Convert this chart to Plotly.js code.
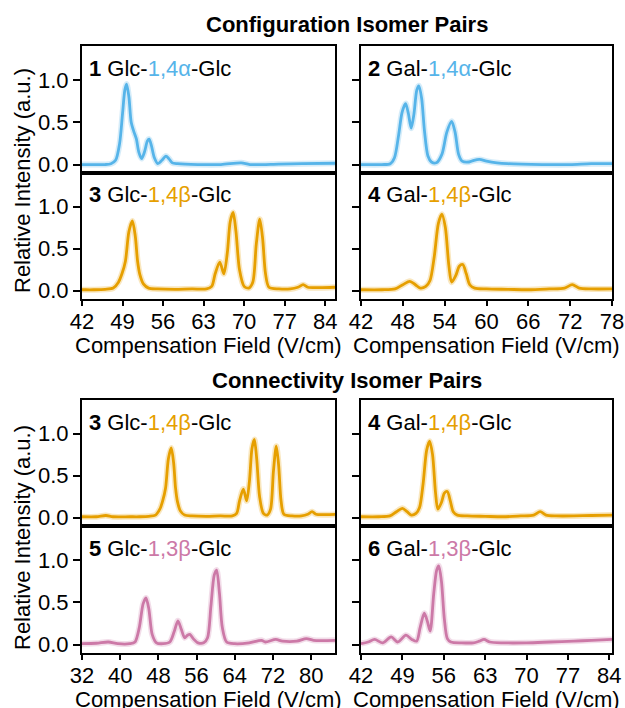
<!DOCTYPE html>
<html><head><meta charset="utf-8">
<script src="https://cdn.plot.ly/plotly-3.0.1.min.js"></script>
<style>html,body{margin:0;padding:0;background:#fff}#chart{width:625px;height:708px}</style>
</head><body><div id="chart"></div>
<script>
// ---------- data ----------
const glc14a_x = [42,44,46,47,47.8,48.5,49.0,49.4,49.7,50.1,50.5,51.0,51.4,51.8,52.3,52.8,53.3,53.6,54.0,54.5,55.1,55.8,56.5,57.0,57.6,58.5,62,66,69.5,71,76,80,85.7];
const glc14a_y = [0.0,0.0,0.0,0.01,0.05,0.25,0.6,0.88,0.95,0.8,0.5,0.38,0.3,0.15,0.07,0.15,0.28,0.30,0.22,0.08,0.01,0.05,0.10,0.07,0.02,0.01,0.0,0.0,0.02,0.0,0.005,0.01,0.015];

const gal14a_x = [42,45,46.2,46.8,47.4,47.9,48.4,48.8,49.2,49.6,50.0,50.3,50.7,51.1,51.6,52.1,52.8,53.6,54.3,55.0,55.5,56.0,56.5,57.5,58.2,59.0,60.0,61.5,63,68,72,75,78];
const gal14a_y = [0.0,0.0,0.01,0.08,0.35,0.62,0.72,0.6,0.43,0.6,0.88,0.93,0.78,0.4,0.1,0.03,0.02,0.12,0.38,0.51,0.38,0.12,0.04,0.03,0.05,0.06,0.04,0.02,0.01,0.0,0.0,0.01,0.01];

const glc14b_x = [32,35,37,38.5,42,44,46,47.4,48.3,48.9,49.5,50.1,50.7,51.2,51.6,52.0,52.6,53.5,55,58,61,63.5,64.4,65.0,65.8,66.5,67.1,67.6,68.1,68.6,69.2,70.0,70.8,71.5,72.1,72.7,73.2,73.7,74.3,76,78,79.3,80.2,81,83,85.7];
const glc14b_y = [0.01,0.01,0.025,0.01,0.01,0.01,0.015,0.03,0.1,0.2,0.35,0.7,0.83,0.65,0.35,0.19,0.08,0.03,0.02,0.015,0.02,0.02,0.05,0.2,0.34,0.2,0.45,0.82,0.93,0.7,0.25,0.05,0.03,0.1,0.55,0.85,0.62,0.2,0.04,0.02,0.02,0.04,0.07,0.04,0.035,0.04];

const gal14b_x = [42,45,46.9,48.0,49.0,49.8,50.5,51.3,51.9,52.5,53.1,53.6,54.1,54.6,55.0,55.6,56.1,56.6,57.1,57.6,58.3,60,63,66,69,71.2,72.3,73.3,75,78,81,84.5];
const gal14b_y = [0.01,0.01,0.02,0.07,0.11,0.07,0.03,0.05,0.12,0.4,0.8,0.91,0.75,0.3,0.1,0.18,0.29,0.31,0.2,0.07,0.03,0.02,0.015,0.01,0.02,0.03,0.07,0.03,0.02,0.02,0.025,0.03];

const glc13b_x = [32,35,37.5,39.5,42,43.1,44.0,44.8,45.4,46.0,46.7,47.6,49,50.4,51.3,52.1,52.8,53.5,54.1,54.6,55.3,56.3,57.5,58.3,59.0,59.7,60.2,60.8,61.4,62.3,64,67,69.6,70.4,72.6,74,77,79.0,80.5,85];
const glc13b_y = [0.01,0.015,0.03,0.01,0.01,0.03,0.2,0.48,0.55,0.42,0.12,0.02,0.01,0.03,0.15,0.28,0.18,0.08,0.11,0.12,0.07,0.02,0.02,0.08,0.45,0.82,0.88,0.6,0.2,0.03,0.01,0.02,0.05,0.03,0.06,0.04,0.04,0.07,0.05,0.05];

const gal13b_x = [42,43.2,44.3,45.7,47.1,48.2,49.6,50.6,51.4,52.0,52.7,53.2,53.7,54.3,54.8,55.15,55.6,56.1,56.6,57.2,59,61,62.0,62.8,63.8,66,70,74,78,81,84.45];
const gal13b_y = [0.01,0.03,0.06,0.02,0.09,0.03,0.11,0.06,0.04,0.2,0.37,0.28,0.16,0.6,0.88,0.93,0.75,0.3,0.07,0.03,0.02,0.02,0.04,0.06,0.03,0.02,0.02,0.03,0.04,0.05,0.06];

// panel labels
const labels = [
  ['1','Glc-','1,4α','-Glc'], ['2','Gal-','1,4α','-Glc'],
  ['3','Glc-','1,4β','-Glc'], ['4','Gal-','1,4β','-Glc'],
  ['3','Glc-','1,4β','-Glc'], ['4','Gal-','1,4β','-Glc'],
  ['5','Glc-','1,3β','-Glc'], ['6','Gal-','1,3β','-Glc']
];
const sectionTitles = ['Configuration Isomer Pairs', 'Connectivity Isomer Pairs'];
const xTitle = 'Compensation Field (V/cm)';
const yTitle = 'Relative Intensity (a.u.)';
const yTickVals = [0, 0.5, 1.0];

// ---------- styling / layout ----------
const BLUE = '#56B4E9', ORANGE = '#E69F00', PINK = '#CC79A7';
const FONT = '"Liberation Sans", Arial, Helvetica, sans-serif';
const W = 625, H = 708;
const xd = (l, r) => [l / W, r / W];
const yd = (t, b) => [1 - b / H, 1 - t / H];

const colL = [82, 335], colR = [361, 612];
const rows = [[46, 173], [173, 299], [400, 526], [526, 653]];

const series = [
  [glc14a_x, glc14a_y, BLUE], [gal14a_x, gal14a_y, BLUE],
  [glc14b_x, glc14b_y, ORANGE], [gal14b_x, gal14b_y, ORANGE],
  [glc14b_x, glc14b_y, ORANGE], [gal14b_x, gal14b_y, ORANGE],
  [glc13b_x, glc13b_y, PINK], [gal13b_x, gal13b_y, PINK]
];
const xRanges = [[42, 85.7], [42, 78], [42, 85.7], [42, 78], [32, 85], [42, 84.45], [32, 85], [42, 84.45]];
const xTicks = [null, null, {t0: 42, dt: 7}, {t0: 42, dt: 6}, null, null, {t0: 32, dt: 8}, {t0: 42, dt: 7}];

function hexA(hex, a) {
  const n = parseInt(hex.slice(1), 16);
  return `rgba(${(n >> 16) & 255},${(n >> 8) & 255},${n & 255},${a})`;
}

const traces = [];
const layout = {
  width: W, height: H, margin: {l: 0, r: 0, t: 0, b: 0},
  paper_bgcolor: '#fff', plot_bgcolor: '#fff', showlegend: false,
  font: {family: FONT, size: 22, color: '#000'},
  annotations: []
};

for (let i = 0; i < 8; i++) {
  const n = i + 1;
  const xa = n === 1 ? 'x' : 'x' + n, ya = n === 1 ? 'y' : 'y' + n;
  const col = i % 2 === 0 ? colL : colR;
  const row = rows[Math.floor(i / 2)];
  const [sx, sy, c] = series[i];
  traces.push({x: sx, y: sy, xaxis: xa, yaxis: ya, type: 'scatter', mode: 'lines',
    line: {color: hexA(c, 0.25), width: 6, shape: 'spline', smoothing: 0.8}, hoverinfo: 'skip', cliponaxis: true});
  traces.push({x: sx, y: sy, xaxis: xa, yaxis: ya, type: 'scatter', mode: 'lines',
    line: {color: c, width: 2.8, shape: 'spline', smoothing: 0.8}, cliponaxis: true});

  const tk = xTicks[i];
  layout['xaxis' + (n === 1 ? '' : n)] = {
    domain: xd(col[0], col[1]), anchor: ya, range: xRanges[i],
    showline: true, mirror: true, linecolor: '#000', linewidth: 2,
    showgrid: false, zeroline: false, fixedrange: true,
    ticks: tk ? 'outside' : '', ticklen: 5, tickwidth: 2, tickcolor: '#000',
    showticklabels: !!tk, tickmode: tk ? 'linear' : 'auto',
    tick0: tk ? tk.t0 : 0, dtick: tk ? tk.dt : 10, ticklabelstandoff: -3,
    tickfont: {family: FONT, size: 22, color: '#000'}
  };
  layout['yaxis' + (n === 1 ? '' : n)] = {
    domain: yd(row[0], row[1]), anchor: xa, range: [-0.1, 1.4],
    showline: true, mirror: true, linecolor: '#000', linewidth: 2,
    showgrid: false, zeroline: false, fixedrange: true,
    ticks: 'outside', ticklen: 7, tickwidth: 2, tickcolor: '#000',
    tickmode: 'array', tickvals: yTickVals, tickformat: '.1f',
    showticklabels: i % 2 === 0,
    tickfont: {family: FONT, size: 22, color: '#000'}
  };

  const L = labels[i];
  layout.annotations.push({
    xref: 'paper', yref: 'paper', x: (col[0] + 5) / W, y: 1 - (row[0] + 22) / H,
    xanchor: 'left', yanchor: 'middle', showarrow: false,
    text: `<b>${L[0]}</b> ${L[1]}<span style="color:${c}">${L[2]}</span>${L[3]}`,
    font: {family: FONT, size: 22, color: '#000'}
  });
}

// section titles
[[24, 0], [380, 1]].forEach(([yy, k]) => layout.annotations.push({
  xref: 'paper', yref: 'paper', x: (colL[0] + colR[1]) / 2 / W, y: 1 - yy / H,
  xanchor: 'center', yanchor: 'middle', showarrow: false,
  text: `<b>${sectionTitles[k]}</b>`, font: {family: FONT, size: 22, color: '#000'}
}));
// x titles
[[345], [699]].forEach(([yy]) => {
  [colL, colR].forEach(col => layout.annotations.push({
    xref: 'paper', yref: 'paper', x: (col[0] + col[1]) / 2 / W, y: 1 - yy / H,
    xanchor: 'center', yanchor: 'middle', showarrow: false,
    text: xTitle, font: {family: FONT, size: 22, color: '#000'}
  }));
});
// y titles
[181, 538].forEach(yy => layout.annotations.push({
  xref: 'paper', yref: 'paper', x: 22 / W, y: 1 - yy / H,
  xanchor: 'center', yanchor: 'middle', showarrow: false, textangle: -90,
  text: yTitle, font: {family: FONT, size: 22, color: '#000'}
}));

Plotly.newPlot('chart', traces, layout, {staticPlot: true, displayModeBar: false});
</script>
</body></html>
